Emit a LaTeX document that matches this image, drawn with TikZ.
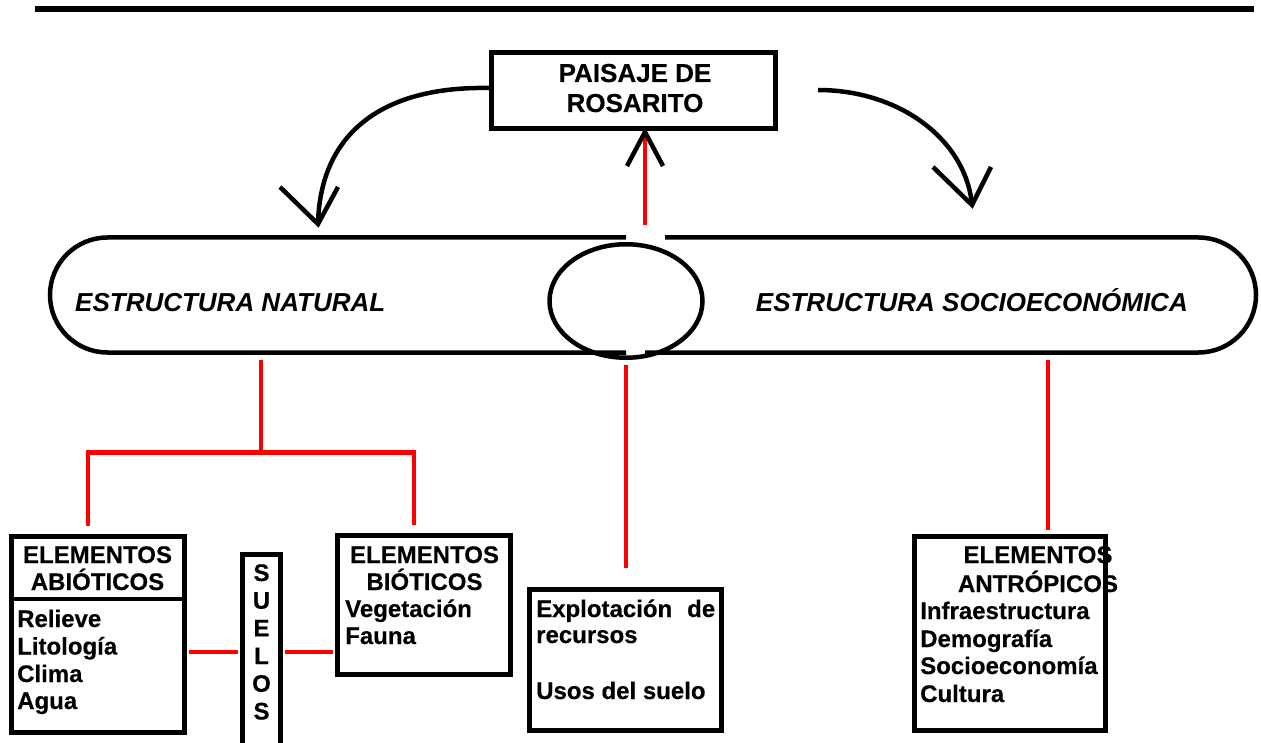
\documentclass[tikz,border=0pt]{standalone}
\usepackage{fontspec}
\setmainfont{Liberation Sans}[BoldFeatures={FakeBold=0.4}]
\usetikzlibrary{shapes.geometric}
\begin{document}
\begin{tikzpicture}[x=1pt,y=-1pt,
  box/.style={draw=black, line width=4.5pt, rectangle, inner sep=0pt},
  blk/.style={draw=black, line width=4.5pt},
  redl/.style={draw=red, line width=4.5pt},
  arr/.style={draw=black, line width=4.5pt},
  body/.style={font=\fontsize{24}{28}\selectfont\bfseries, inner sep=0pt, anchor=base west},
  head/.style={font=\fontsize{24}{28}\selectfont\bfseries, inner sep=0pt, anchor=base},
  ttl/.style={font=\fontsize{26}{30}\selectfont\bfseries, inner sep=0pt, anchor=base},
  big/.style={font=\fontsize{26}{30}\selectfont\bfseries\itshape, inner sep=0pt},
]
\useasboundingbox (0,0) rectangle (1261,743);
\fill[white] (0,0) rectangle (1261,743);

% top rule
\coordinate (rl) at (35,9);
\coordinate (rr) at (1254,9);
\draw[line width=6pt] (rl) -- (rr);

% coordinates for connectors
\coordinate (ptop) at (645,225);
\coordinate (nt) at (261,360);
\coordinate (nj) at (261,452.5);
\coordinate (ja) at (88,452.5);
\coordinate (jb) at (414,452.5);
\coordinate (ar) at (1048,360);
\coordinate (sy) at (0,652);

% texts (under the borders)
\node[ttl] (p1) at (635,82) {PAISAJE DE};
\node[ttl] (p2) at (635,112) {ROSARITO};

\node[big, anchor=base west] (en) at (75,312) {ESTRUCTURA NATURAL};
\node[big, anchor=base east] (es) at (1188,312) {ESTRUCTURA SOCIOECONÓMICA};

\node[head] (ah1) at (97.5,563) {ELEMENTOS};
\node[head] (ah2) at (97.5,590) {ABIÓTICOS};
\node[body] (ab1) at (17,627) {Relieve};
\node[body] (ab2) at (17,654.5) {Litología};
\node[body] (ab3) at (17,682) {Clima};
\node[body] (ab4) at (17,709) {Agua};

\foreach \l [count=\i] in {S,U,E,L,O,S}
  \node[head] (sl\i) at (261.5,581+27.7*\i-27.7) {\l};

\node[head] (bh1) at (424.5,563) {ELEMENTOS};
\node[head] (bh2) at (424.5,590) {BIÓTICOS};
\node[body] (bb1) at (345,617) {Vegetación};
\node[body] (bb2) at (345,644) {Fauna};

\node[body] (eb1) at (536,617) {\hbox to 179pt{Explotación\hfill de}};
\node[body] (eb2) at (536,643) {recursos};
\node[body] (eb3) at (536,699) {Usos del suelo};

\node[head] (nh1) at (1038,563) {ELEMENTOS};
\node[head] (nh2) at (1038,592) {ANTRÓPICOS};
\node[body] (nb1) at (920,619) {Infraestructura};
\node[body] (nb2) at (920,647) {Demografía};
\node[body] (nb3) at (920,674) {Socioeconomía};
\node[body] (nb4) at (920,702) {Cultura};

% boxes
\node[box, minimum width=284, minimum height=76] (paisaje) at (633.5,90.5) {};
\node[box, minimum width=173, minimum height=196] (abio) at (98,634.5) {};
\node[box, minimum width=38, minimum height=196] (suelos) at (261.5,652.5) {};
\node[box, minimum width=173, minimum height=139] (bio) at (424,605) {};
\node[box, minimum width=192, minimum height=141] (explot) at (625.5,660) {};
\node[box, minimum width=191, minimum height=194] (antro) at (1010,633.5) {};
\coordinate (dl) at (11.5,599);
\coordinate (dr) at (184.5,599);
\draw[blk] (dl -| abio.west) -- (dr -| abio.east);

% stadium with gaps
\coordinate (gl) at (626,237.5);
\coordinate (gr) at (665,237.5);
\coordinate (bl) at (626,352.5);
\coordinate (br) at (645,352.5);
\node[draw=black, line width=4.5pt, ellipse, minimum width=153, minimum height=113.5, inner sep=0pt] (ell) at (626,301) {};
\draw[blk] (gl) -- (107.5,237.5) arc[start angle=270, end angle=90, radius=57.5] -- (bl);
\draw[blk] (gr) -- (1198.5,237.5) arc[start angle=270, end angle=450, radius=57.5] -- (br);

% red connectors
\draw[redl] (paisaje.south -| ptop) -- (ptop);
\draw[redl] (nt) -- (nj);
\draw[redl] ([yshift=8.5pt]abio.north -| ja) -- (ja) -- (jb) -- ([yshift=8.5pt]bio.north -| jb);
\draw[redl] ([yshift=-4.5pt]ell.south) -- ([yshift=19.5pt]explot.north -| ell.south);
\draw[redl] (ar) -- ([yshift=4.5pt]antro.north -| ar);
\draw[redl] ([xshift=2.25pt]abio.east |- sy) -- ([xshift=-2.25pt]suelos.west |- sy);
\draw[redl] ([xshift=2.25pt]suelos.east |- sy) -- ([xshift=-2.25pt]bio.west |- sy);

% arrowhead into paisaje
\coordinate (pa) at (645,132);
\coordinate (pal) at (627,166);
\coordinate (par) at (663,166);
\draw[arr] (pal) -- (pa) -- (par);

% curved arrows
\coordinate (s1) at (489,88);
\coordinate (a1) at (318,224);
\coordinate (a1l) at (280,187);
\coordinate (a1r) at (338,187);
\draw[arr] (s1) .. controls (380,86) and (320,135) .. (a1);
\draw[arr] (a1l) -- (a1) -- (a1r);

\coordinate (s2) at (818,90);
\coordinate (a2) at (972,205);
\coordinate (a2l) at (933,167);
\coordinate (a2r) at (991,167);
\draw[arr] (s2) .. controls (900,90) and (966,140) .. (a2);
\draw[arr] (a2l) -- (a2) -- (a2r);
\end{tikzpicture}
\end{document}
